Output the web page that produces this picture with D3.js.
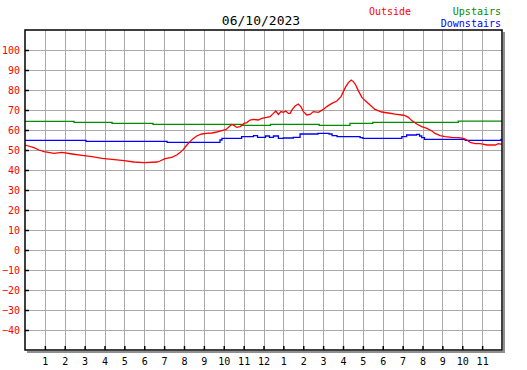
<!DOCTYPE html>
<meta charset="utf-8">
<script src="https://d3js.org/d3.v7.min.js"></script>
<style>
  body { margin: 0; background: #fff; }
  text { font-family: "DejaVu Sans Mono", monospace; }
  .grid line { stroke: #a8a8a8; stroke-width: 1; shape-rendering: crispEdges; }
  .grid path { display: none; }
</style>
<svg id="chart" width="527" height="370"></svg>
<script>

// title and legend
const chartTitle = "06/10/2023";
const seriesNames = ["Outside", "Upstairs", "Downstairs"];
const seriesColors = ["#ff0000", "#008c00", "#0000ff"];

// axes
const yTicks = [-40, -30, -20, -10, 0, 10, 20, 30, 40, 50, 60, 70, 80, 90, 100];
const hourTicks = [1, 2, 3, 4, 5, 6, 7, 8, 9, 10, 11, 12, 13, 14, 15, 16, 17, 18, 19, 20, 21, 22, 23];
const hourLabels = ["1","2","3","4","5","6","7","8","9","10","11","12","1","2","3","4","5","6","7","8","9","10","11"];

// Outside (hours of day, deg F)
const outsideHours = [0, 0.45, 0.70, 0.96, 1.46, 1.86, 2.37, 2.87, 3.37, 3.88, 4.38, 4.98, 5.49, 5.99,
  6.64, 6.79, 7.05, 7.38, 7.63, 7.80, 7.97, 8.14, 8.30, 8.47, 8.64, 8.89, 9.14, 9.40, 9.65, 9.90,
  10.12, 10.28, 10.40, 10.52, 10.65, 10.82, 10.91, 11.02, 11.16, 11.32, 11.49, 11.74, 11.91, 12.16,
  12.33, 12.50, 12.62, 12.75, 12.88, 13.00, 13.12, 13.25, 13.34, 13.45, 13.59, 13.75, 13.88, 14.01,
  14.18, 14.34, 14.51, 14.76, 15.01, 15.18, 15.44, 15.69, 15.90, 16.02, 16.14, 16.27, 16.41, 16.52,
  16.64, 16.77, 16.95, 17.11, 17.36, 17.61, 17.95, 18.28, 18.62, 18.96, 19.12, 19.29, 19.46, 19.71,
  19.96, 20.22, 20.47, 20.63, 20.89, 21.14, 21.47, 21.81, 22.06, 22.23, 22.40, 22.65, 22.90, 23.24,
  23.65, 23.82, 23.99];
const outsideTemps = [52.5, 51.2, 50.0, 49.2, 48.3, 48.8, 48.0, 47.3, 46.7, 45.8, 45.3, 44.7, 44.0, 43.7,
  44.0, 44.5, 45.7, 46.3, 47.5, 48.7, 50.3, 52.5, 54.2, 55.8, 57.0, 58.0, 58.3, 58.5, 59.0, 59.7,
  60.3, 61.7, 62.8, 62.3, 61.3, 61.7, 62.3, 63.3, 63.7, 65.0, 65.3, 65.0, 65.8, 66.3,
  66.7, 68.3, 69.5, 67.8, 69.2, 68.8, 69.5, 68.3, 68.3, 70.3, 72.0, 73.0, 71.7, 69.2,
  67.5, 67.8, 69.2, 68.8, 70.3, 71.7, 73.3, 74.5, 76.7, 79.2, 81.7, 83.7, 85.0, 84.2,
  82.5, 79.7, 76.3, 74.7, 72.5, 70.3, 69.0, 68.5, 67.9, 67.5, 67.2, 66.3, 64.7, 63.0,
  61.7, 60.8, 59.5, 58.3, 57.2, 56.7, 56.3, 56.2, 55.8, 55.0, 53.8, 53.2, 53.2, 52.5,
  52.5, 53.2, 52.8];

// Upstairs (value holds until next hour listed)
const upstairsHours = [0, 2.47, 4.38, 6.44, 10.90, 12.35, 14.80, 16.35, 17.50, 21.80, 24];
const upstairsTemps = [64.3, 63.8, 63.3, 62.8, 62.3, 62.8, 62.3, 63.3, 63.8, 64.4, 64.4];

// Downstairs (value holds until next hour listed)
const downstairsHours = [0, 3.07, 7.15, 9.81, 9.91, 10.90, 11.50, 11.70, 12.10, 12.30, 12.50, 12.75,
  13.00, 13.50, 13.84, 14.74, 15.30, 15.45, 15.70, 16.86, 17.00, 18.96, 19.20, 19.70, 19.85, 19.96,
  20.10, 22.15, 23.95, 24];
const downstairsTemps = [54.8, 54.3, 53.8, 55.0, 55.8, 56.7, 57.2, 56.3, 57.0, 56.3, 57.0, 55.8,
  56.0, 56.3, 58.0, 58.3, 58.0, 57.2, 56.7, 56.2, 55.8, 56.7, 57.5, 57.8, 57.0, 56.2,
  55.3, 54.8, 55.3, 55.3];

const svg = d3.select("#chart");
const plotLeft = 25, plotRight = 502, plotTop = 30, plotBottom = 350;

const x = d3.scaleLinear().domain([0, 24]).range([plotLeft, plotRight]);
const y = d3.scaleLinear().domain([-50, 110]).range([plotBottom, plotTop]);

// drop shadow of the frame
svg.append("path")
  .attr("d", `M${plotLeft + 2},${plotBottom + 2}H${plotRight + 2}V${plotTop + 2}`)
  .attr("fill", "none").attr("stroke", "#909090").attr("stroke-width", 2);

// grid
svg.append("g").attr("class", "grid")
  .attr("transform", `translate(0,${plotBottom})`)
  .call(d3.axisBottom(x).tickValues(hourTicks).tickSize(-(plotBottom - plotTop)).tickFormat(""));
svg.append("g").attr("class", "grid")
  .attr("transform", `translate(${plotLeft},0)`)
  .call(d3.axisLeft(y).tickValues(yTicks).tickSize(-(plotRight - plotLeft)).tickFormat(""));

// data lines
const line = d3.line().x(d => x(d[0])).y(d => y(d[1]));
const stepLine = d3.line().x(d => x(d[0])).y(d => y(d[1])).curve(d3.curveStepAfter);

svg.append("path").datum(d3.zip(upstairsHours, upstairsTemps))
  .attr("d", stepLine).attr("fill", "none")
  .attr("stroke", seriesColors[1]).attr("stroke-width", 1.3);
svg.append("path").datum(d3.zip(downstairsHours, downstairsTemps))
  .attr("d", stepLine).attr("fill", "none")
  .attr("stroke", seriesColors[2]).attr("stroke-width", 1.3);
svg.append("path").datum(d3.zip(outsideHours, outsideTemps))
  .attr("d", line).attr("fill", "none")
  .attr("stroke", seriesColors[0]).attr("stroke-width", 1.3);

// frame
svg.append("rect")
  .attr("x", plotLeft).attr("y", plotTop)
  .attr("width", plotRight - plotLeft).attr("height", plotBottom - plotTop)
  .attr("fill", "none").attr("stroke", "#000").attr("stroke-width", 1.5);

// y axis: inward ticks, red labels
const yAxis = svg.append("g")
  .attr("transform", `translate(${plotLeft},0)`)
  .call(d3.axisLeft(y).tickValues(yTicks).tickSize(-4).tickPadding(5));
yAxis.select(".domain").remove();
yAxis.selectAll("line").attr("stroke", "#000").attr("stroke-width", 1.5);
yAxis.selectAll("text").attr("fill", seriesColors[0])
  .style("font-family", "DejaVu Sans Mono").style("font-size", "10px");

// x axis: hour ticks
const xAxis = svg.append("g")
  .attr("transform", `translate(0,${plotBottom})`)
  .call(d3.axisBottom(x).tickValues(hourTicks).tickSize(-4).tickPadding(8)
    .tickFormat((d, i) => hourLabels[i]));
xAxis.select(".domain").remove();
xAxis.selectAll("line").attr("stroke", "#000").attr("stroke-width", 1.5);
xAxis.selectAll("text").attr("fill", "#000")
  .style("font-family", "DejaVu Sans Mono").style("font-size", "10px");

// title
svg.append("text")
  .attr("x", 261).attr("y", 25)
  .attr("text-anchor", "middle")
  .style("font-size", "13px")
  .text(chartTitle);

// legend
svg.append("text").attr("x", 369).attr("y", 15)
  .attr("fill", seriesColors[0]).style("font-size", "10px").text(seriesNames[0]);
svg.append("text").attr("x", 501).attr("y", 14.5).attr("text-anchor", "end")
  .attr("fill", seriesColors[1]).style("font-size", "10px").text(seriesNames[1]);
svg.append("text").attr("x", 501).attr("y", 27).attr("text-anchor", "end")
  .attr("fill", seriesColors[2]).style("font-size", "10px").text(seriesNames[2]);

</script>
